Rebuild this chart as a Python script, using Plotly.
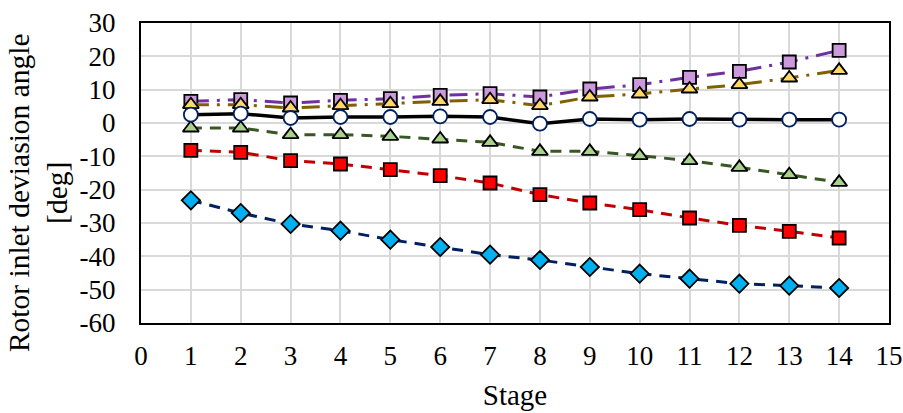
import plotly.graph_objects as go

stages = list(range(1, 15))
purple_sq = [6.5, 7.0, 6.0, 6.8, 7.3, 8.3, 8.8, 7.8, 10.2, 11.5, 13.7, 15.5, 18.3, 21.8]
yellow_tri = [5.5, 5.5, 4.5, 5.2, 5.8, 6.5, 7.0, 5.2, 7.8, 8.7, 10.2, 11.5, 13.5, 15.8]
white_circ = [2.5, 2.8, 1.5, 1.8, 1.8, 2.0, 1.8, -0.2, 1.2, 1.0, 1.2, 1.0, 1.0, 1.0]
green_tri = [-1.5, -1.5, -3.5, -3.5, -4.0, -4.8, -5.8, -8.5, -8.5, -9.8, -11.3, -13.3, -15.5, -17.8]
red_sq = [-8.2, -8.8, -11.3, -12.3, -14.0, -15.8, -18.0, -21.5, -24.0, -26.0, -28.5, -30.7, -32.5, -34.5]
blue_dia = [-23.2, -27.0, -30.3, -32.3, -35.0, -37.2, -39.5, -41.1, -43.2, -45.2, -46.7, -48.2, -48.8, -49.5]

x_ticks = list(range(0, 16))
y_ticks = list(range(-60, 31, 10))

x_title = "Stage"
y_title = "Rotor inlet deviasion angle<br>[deg]"

FONT = "Liberation Serif, Times New Roman, serif"

fig = go.Figure()

def add(y, line_color, dash, width, symbol, fill, size, edge="black"):
    fig.add_trace(go.Scatter(
        x=stages, y=y, mode="lines+markers",
        line=dict(color=line_color, dash=dash, width=width),
        marker=dict(symbol=symbol, size=size, color=fill,
                    line=dict(color=edge, width=1.8)),
        showlegend=False, cliponaxis=False))

add(blue_dia, "#002060", "11px,8px", 3, "diamond", "#00B0F0", 14)
add(red_sq, "#C00000", "11px,8px", 3, "square", "#FF0000", 13)
add(green_tri, "#385723", "11px,8px", 3, "triangle-up", "#A9D18E", 14)
add(purple_sq, "#7030A0", "18px,8px,3px,8px", 3, "square", "#CC99DD", 13)
add(yellow_tri, "#806000", "18px,8px,3px,8px", 3, "triangle-up", "#FFD966", 14)
add(white_circ, "black", "solid", 3.5, "circle", "white", 14, edge="#002060")

fig.update_layout(
    width=903, height=413,
    margin=dict(l=141, r=14, t=23, b=90),
    paper_bgcolor="white", plot_bgcolor="white",
    font=dict(family=FONT, size=27, color="black"),
    annotations=[dict(
        text=y_title, textangle=-90, xref="paper", yref="paper",
        x=0, y=0.433, xshift=-103, xanchor="center", yanchor="middle",
        showarrow=False, font=dict(size=29.5), align="center",
    )],
)
fig.update_xaxes(
    range=[0, 15], tickvals=x_ticks, ticktext=[str(v) for v in x_ticks],
    showgrid=True, gridcolor="#D9D9D9", gridwidth=1.5,
    showline=True, linecolor="black", linewidth=2, mirror=True,
    zeroline=False, ticks="", ticklabelstandoff=8, automargin=False,
    title=dict(text=x_title, font=dict(size=29), standoff=14),
)
fig.update_yaxes(
    range=[-60, 30], tickvals=y_ticks, ticktext=[str(v) for v in y_ticks],
    showgrid=True, gridcolor="#D9D9D9", gridwidth=1.5,
    showline=True, linecolor="black", linewidth=2, mirror=True,
    zeroline=False, ticks="", ticklabelstandoff=18, automargin=False,
)

fig.write_html(
    "out.html",
    config={"displayModeBar": False},
    post_script="document.body.style.margin='0';document.body.style.overflow='hidden';",
)
